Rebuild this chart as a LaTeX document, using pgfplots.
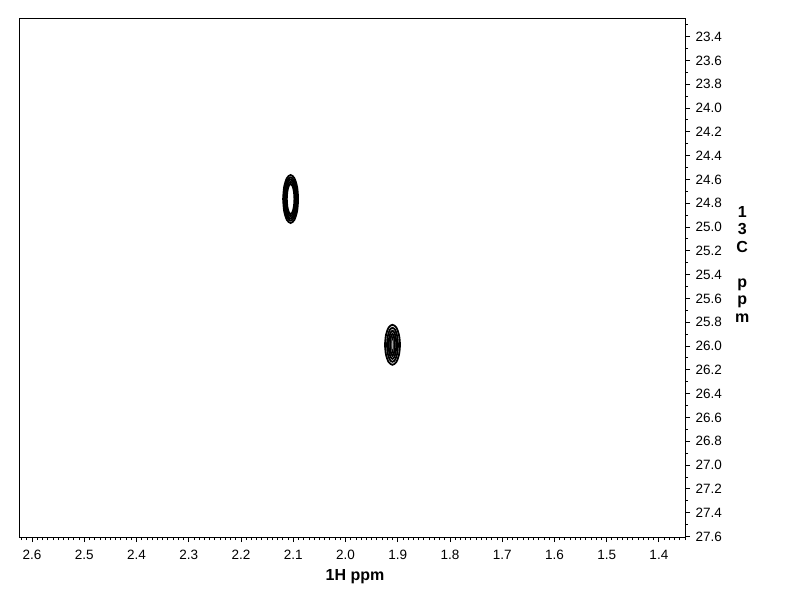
\documentclass[border=0pt]{standalone}
\usepackage{fontspec}
\setmainfont{Liberation Sans}
\usepackage{pgfplots}
\pgfplotsset{compat=1.18}
\begin{document}
\begin{tikzpicture}
\begin{axis}[
  scale only axis,
  width=666pt, height=519pt,
  x dir=reverse, y dir=reverse,
  xmin=1.350, xmax=2.625,
  ymin=23.244, ymax=27.605,
  xtick={1.4,1.5,1.6,1.7,1.8,1.9,2.0,2.1,2.2,2.3,2.4,2.5,2.6},
  minor xtick={1.35,1.36,...,2.625},
  ytick={23.4,23.6,23.8,24.0,24.2,24.4,24.6,24.8,25.0,25.2,25.4,25.6,25.8,26.0,26.2,26.4,26.6,26.8,27.0,27.2,27.4,27.6},
  minor ytick={23.3,23.5,...,27.5},
  xtick pos=bottom, ytick pos=right, yticklabel pos=right,
  tick align=outside,
  major tick length=5pt, minor tick length=3pt,
  every tick/.style={black, line width=0.8pt},
  axis line style={line width=0.8pt},
  /pgf/number format/assume math mode=true,
  xticklabel style={yshift=-5pt, /pgf/number format/.cd, fixed, fixed zerofill, precision=1},
  yticklabel style={xshift=2pt, /pgf/number format/.cd, fixed, fixed zerofill, precision=1},
  ticklabel style={font=\fontsize{13.5}{15}\selectfont},
  xlabel={1H ppm},
  every axis x label/.style={at={(rel axis cs:0.5045,0)}, yshift=-40pt, anchor=center, font=\bfseries\fontsize{16}{18}\selectfont},
  ylabel={1\\3\\C\\[17.5pt]p\\p\\m},
  every axis y label/.style={at={(rel axis cs:1.086,0.526)}, anchor=center, align=center, font=\bfseries\fontsize{16}{17.5}\selectfont},
  contour/.style={black, line width=1.8pt, smooth, no markers},
]
% peak 1 (2.105, 24.765)
\addplot[contour] coordinates {(2.1194,24.765) (2.1174,24.866) (2.1122,24.940) (2.1050,24.967) (2.0978,24.940) (2.0926,24.866) (2.0907,24.765) (2.0926,24.664) (2.0978,24.590) (2.1050,24.563) (2.1122,24.590) (2.1174,24.664) (2.1194,24.765)};
\addplot[contour] coordinates {(2.1174,24.765) (2.1158,24.856) (2.1112,24.923) (2.1050,24.947) (2.0988,24.923) (2.0942,24.856) (2.0926,24.765) (2.0942,24.674) (2.0988,24.607) (2.1050,24.583) (2.1112,24.607) (2.1158,24.674) (2.1174,24.765)};
\addplot[contour] coordinates {(2.1155,24.765) (2.1141,24.847) (2.1103,24.907) (2.1050,24.929) (2.0997,24.907) (2.0959,24.847) (2.0945,24.765) (2.0959,24.683) (2.0997,24.623) (2.1050,24.601) (2.1103,24.623) (2.1141,24.683) (2.1155,24.765)};
\addplot[contour] coordinates {(2.1138,24.765) (2.1126,24.837) (2.1094,24.890) (2.1050,24.910) (2.1006,24.890) (2.0974,24.837) (2.0962,24.765) (2.0974,24.693) (2.1006,24.640) (2.1050,24.620) (2.1094,24.640) (2.1126,24.693) (2.1138,24.765)};
\addplot[contour] coordinates {(2.1123,24.765) (2.1113,24.828) (2.1086,24.874) (2.1050,24.891) (2.1014,24.874) (2.0987,24.828) (2.0977,24.765) (2.0987,24.702) (2.1014,24.656) (2.1050,24.639) (2.1086,24.656) (2.1113,24.702) (2.1123,24.765)};
% peak 2 (1.910, 25.990)
\addplot[contour] coordinates {(1.9244,25.990) (1.9224,26.074) (1.9172,26.136) (1.9100,26.158) (1.9028,26.136) (1.8976,26.074) (1.8957,25.990) (1.8976,25.906) (1.9028,25.844) (1.9100,25.822) (1.9172,25.844) (1.9224,25.906) (1.9244,25.990)};
\addplot[contour] coordinates {(1.9205,25.990) (1.9191,26.062) (1.9153,26.114) (1.9100,26.133) (1.9047,26.114) (1.9009,26.062) (1.8995,25.990) (1.9009,25.919) (1.9047,25.866) (1.9100,25.847) (1.9153,25.866) (1.9191,25.919) (1.9205,25.990)};
\addplot[contour] coordinates {(1.9173,25.990) (1.9163,26.049) (1.9136,26.092) (1.9100,26.108) (1.9064,26.092) (1.9037,26.049) (1.9027,25.990) (1.9037,25.931) (1.9064,25.888) (1.9100,25.872) (1.9136,25.888) (1.9163,25.931) (1.9173,25.990)};
\addplot[contour] coordinates {(1.9142,25.990) (1.9137,26.036) (1.9121,26.070) (1.9100,26.082) (1.9079,26.070) (1.9064,26.036) (1.9058,25.990) (1.9064,25.944) (1.9079,25.910) (1.9100,25.898) (1.9121,25.910) (1.9137,25.944) (1.9142,25.990)};
\addplot[contour, line width=0.8pt] coordinates {(1.9115,25.990) (1.9113,26.024) (1.9108,26.048) (1.9100,26.057) (1.9092,26.048) (1.9087,26.024) (1.9085,25.990) (1.9087,25.956) (1.9092,25.932) (1.9100,25.923) (1.9108,25.932) (1.9113,25.956) (1.9115,25.990)};
\end{axis}
\pgfresetboundingbox
\useasboundingbox (-19pt,-75pt) rectangle (773pt,537pt);
\end{tikzpicture}
\end{document}
